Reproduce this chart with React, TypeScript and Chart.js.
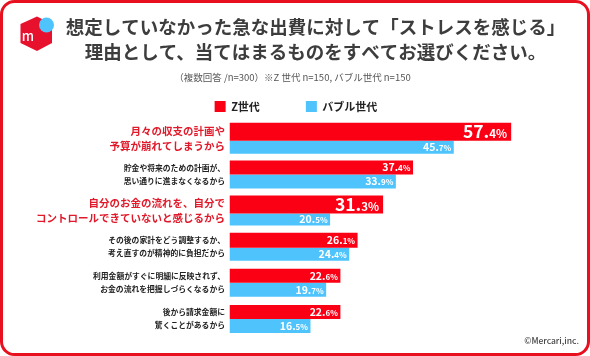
import React, { useEffect, useRef } from "react";
import { Chart, registerables } from "chart.js";

Chart.register(...registerables);

const titleLines = ["想定していなかった急な出費に対して「ストレスを感じる」", "理由として、当てはまるものをすべてお選びください。"];
const subtitleText = "（複数回答 /n=300）※Z 世代 n=150, バブル世代 n=150";
const copyright = "©Mercari,inc.";
const categories = [
  ["月々の収支の計画や", "予算が崩れてしまうから"],
  ["貯金や将来のための計画が、", "思い通りに進まなくなるから"],
  ["自分のお金の流れを、自分で", "コントロールできていないと感じるから"],
  ["その後の家計をどう調整するか、", "考え直すのが精神的に負担だから"],
  ["利用金額がすぐに明細に反映されず、", "お金の流れを把握しづらくなるから"],
  ["後から請求金額に", "驚くことがあるから"],
];
const genZ = [57.4, 37.4, 31.3, 26.1, 22.6, 22.6];
const bubble = [45.7, 33.9, 20.5, 24.4, 19.7, 16.5];
const emphasised = [true, false, true, false, false, false];

const RED = "#fb0014";
const BLUE = "#4fc3fb";
const FRAME = "#e8101f";
const TEXT = "#3d3d3d";
const FONT = '"Noto Sans CJK JP", "Noto Sans", sans-serif';
const zBarHeights = [18, 14, 18, 15, 14, 14];
const bBarHeights = [13, 14, 12, 13, 14, 14];
const LEGEND_GAP = 46;
const LEGEND_BOX_HEIGHT = 48.3;

const stackedRows = {
  id: "stackedRows",
  afterDatasetsUpdate(chart: any) {
    const yScale = chart.scales.y;
    [zBarHeights, bBarHeights].forEach((heights, ds) => {
      chart.getDatasetMeta(ds).data.forEach((el: any, i: number) => {
        const c = yScale.getPixelForValue(i);
        const top = c - (zBarHeights[i] + bBarHeights[i]) / 2;
        el.height = heights[i];
        el.y = ds === 0 ? top + heights[i] / 2 : top + zBarHeights[i] + heights[i] / 2;
      });
    });
  },
};

const barLabels = {
  id: "barLabels",
  afterDatasetsDraw(chart: any) {
    const ctx = chart.ctx;
    chart.data.datasets.forEach((d: any, ds: number) => {
      chart.getDatasetMeta(ds).data.forEach((el: any, i: number) => {
        const big = ds === 0 && emphasised[i];
        const major = big ? 17.5 : 10.5;
        const minor = big ? 11.5 : 8;
        const [a, b] = d.data[i].toFixed(1).split(".");
        const head = a + ".";
        const tail = b + "%";
        ctx.save();
        ctx.fillStyle = "#ffffff";
        ctx.textBaseline = "alphabetic";
        ctx.textAlign = "left";
        ctx.font = `700 ${minor}px ${FONT}`;
        const tw = ctx.measureText(tail).width;
        ctx.font = `700 ${major}px ${FONT}`;
        const hw = ctx.measureText(head).width;
        const base = el.y + major * 0.37;
        const x = el.x - (big ? 4 : 2.5) - tw - hw;
        ctx.fillText(head, x, base);
        ctx.font = `700 ${minor}px ${FONT}`;
        ctx.fillText(tail, x + hw, base);
        ctx.restore();
      });
    });
  },
};

const decoration = {
  id: "decoration",
  beforeLayout(chart: any) {
    const legend = chart.legend;
    if (legend && !legend.__wrapped) {
      const fit = legend.fit;
      legend.fit = function () {
        fit.call(this);
        this.height = LEGEND_BOX_HEIGHT;
      };
      legend.__wrapped = true;
    }
  },
  afterLayout(chart: any) {
    chart.titleBlock.left += 29;
    chart.titleBlock.right += 29;
    const sub = chart.boxes.find((b: any) => b.options && b.options.text === subtitleText);
    if (sub) {
      sub.left += 6;
      sub.right += 6;
    }
    chart.legend.left += 9.5;
    chart.legend.right += 9.5;
    chart.legend.bottom += 30;
  },
  beforeDraw(chart: any) {
    const ctx = chart.ctx;
    ctx.save();
    ctx.fillStyle = "#ffffff";
    ctx.fillRect(0, 0, chart.width, chart.height);
    ctx.strokeStyle = FRAME;
    ctx.lineWidth = 3;
    ctx.beginPath();
    ctx.roundRect(1.5, 1.5, chart.width - 3, chart.height - 3, 13);
    ctx.stroke();
    // logo
    ctx.fillStyle = "#e8112d";
    ctx.beginPath();
    ctx.moveTo(37, 16.5);
    ctx.lineTo(52, 24);
    ctx.lineTo(52, 43);
    ctx.lineTo(37, 51);
    ctx.lineTo(20.5, 43);
    ctx.lineTo(20.5, 24);
    ctx.closePath();
    ctx.fill();
    ctx.fillStyle = BLUE;
    ctx.beginPath();
    ctx.arc(46.5, 25, 7.5, 0, Math.PI * 2);
    ctx.fill();
    ctx.fillStyle = "#ffffff";
    ctx.font = `500 13px ${FONT}`;
    ctx.textAlign = "center";
    ctx.textBaseline = "middle";
    ctx.fillText("m", 28, 36);
    // copyright
    ctx.fillStyle = "#444444";
    ctx.font = `500 8.5px ${FONT}`;
    ctx.textAlign = "right";
    ctx.fillText(copyright, 579, 341);
    ctx.restore();
  },
};

export default function App() {
  const ref = useRef<HTMLCanvasElement>(null);
  useEffect(() => {
    const chart = new Chart(ref.current as HTMLCanvasElement, {
      type: "bar",
      data: {
        labels: categories as any,
        datasets: [
          { label: "Z世代", data: genZ, backgroundColor: RED, borderWidth: 0 },
          { label: "バブル世代", data: bubble, backgroundColor: BLUE, borderWidth: 0 },
        ],
      },
      plugins: [decoration, stackedRows, barLabels],
      options: {
        indexAxis: "y",
        responsive: false,
        animation: false,
        layout: { padding: { top: 0, right: 17, bottom: 17.3, left: 0 } },
        plugins: {
          tooltip: { enabled: false },
          title: {
            display: true,
            text: titleLines,
            color: TEXT,
            font: { family: FONT, size: 18.5, weight: "700", lineHeight: 25 / 18.5 },
            padding: { top: 14, bottom: 8 },
          },
          subtitle: {
            display: true,
            text: subtitleText,
            color: "#555555",
            font: { family: FONT, size: 9.5, weight: "400" },
            padding: { top: 0, bottom: -28.5 },
          },
          legend: {
            display: true,
            position: "top",
            labels: {
              boxWidth: 11,
              boxHeight: 11,
              padding: LEGEND_GAP,
              color: "#222222",
              font: { family: FONT, size: 11, weight: "700" },
            },
          },
        },
        scales: {
          x: { display: false, min: 0, max: 70 },
          y: {
            afterFit(s: any) {
              s.width = 229.5;
            },
            grid: { display: false, drawTicks: false },
            border: { display: false },
            ticks: {
              autoSkip: false,
              padding: 4.5,
              crossAlign: "near",
              color: (c: any) => (emphasised[c.index] ? "#e01a2b" : "#222222"),
              font: (c: any) =>
                emphasised[c.index]
                  ? { family: FONT, size: 10.5, weight: "700", lineHeight: 14.5 / 10.5 }
                  : { family: FONT, size: 7.8, weight: "700", lineHeight: 13 / 7.8 },
            },
          },
        },
      },
    } as any);
    return () => chart.destroy();
  }, []);
  return (
    <div style={{ position: "fixed", left: 0, top: 0, width: 590, height: 356, background: "#fff" }}>
      <canvas ref={ref} width={590} height={356} style={{ display: "block" }} />
    </div>
  );
}
